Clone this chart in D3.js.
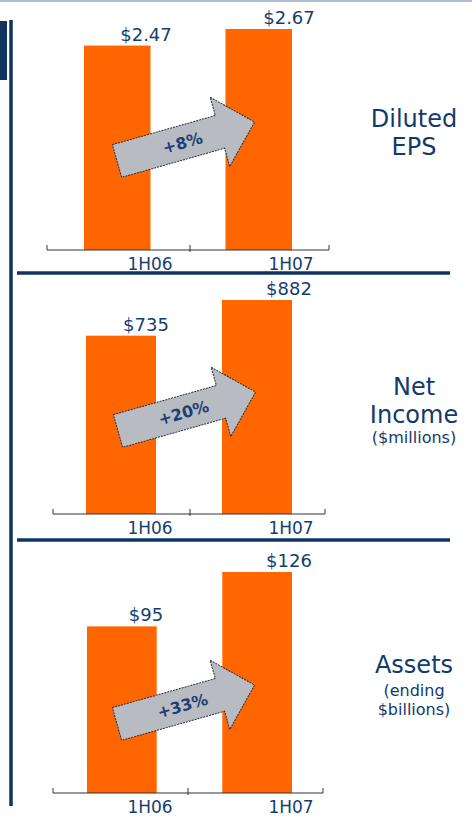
<!DOCTYPE html>
<meta charset="utf-8">
<style>
body { margin: 0; background: #fff; }
svg { display: block; font-family: Verdana, "DejaVu Sans", sans-serif; }
.bar { fill: #ff6600; }
.axis line { stroke: #333; stroke-width: 1px; fill: none; }
.val { fill: #153e6f; font-size: 18px; text-anchor: middle; }
.cat { fill: #153e6f; font-size: 17px; text-anchor: middle; }
.title { fill: #123a6b; font-size: 24px; text-anchor: middle; }
.note { fill: #123a6b; font-size: 16px; text-anchor: middle; }
.arrow { fill: #b8bbc2; stroke: #2a2f3a; stroke-width: 1px; stroke-dasharray: 2,1; }
.growth { fill: #1d3f72; font-size: 16px; font-weight: bold; text-anchor: middle; }
.rule { stroke: #0f3461; }
</style>
<body>
<script src="https://d3js.org/d3.v7.min.js"></script>
<script>

var width = 472,
    height = 817;

// data
var periods = ["1H06", "1H07"];
var epsValues = [2.47, 2.67];
var incomeValues = [735, 882];
var assetValues = [95, 126];
var growthLabels = ["+8%", "+20%", "+33%"];
var titleLines = [["Diluted", "EPS"], ["Net", "Income"], ["Assets"]];
var noteLines = [[], ["($millions)"], ["(ending", "$billions)"]];

var formats = [d3.format("$.2f"), d3.format("$d"), d3.format("$d")];
var series = [epsValues, incomeValues, assetValues];

// layout of the three panels
var panels = [
  {base: 250, top: 29, x0: 47, x1: 329, mid: 190, bars: [84, 292], pad: 0.53, arrow: [117, 161], titleY: 127, noteY: 0},
  {base: 514, top: 300, x0: 53, x1: 325, mid: 190, bars: [86, 292], pad: 0.485, arrow: [118, 431], titleY: 395, noteY: 443},
  {base: 793, top: 572, x0: 53, x1: 323, mid: 188, bars: [87, 292], pad: 0.485, arrow: [117, 724], titleY: 673, noteY: 696}
];

var labelX = d3.scalePoint().domain(periods).range([150, 291]);
var valueX = d3.scalePoint().domain(periods).range([146, 289]);

var svg = d3.select("body").append("svg")
    .attr("width", width)
    .attr("height", height);

// frame decorations
svg.append("line").attr("x1", 0).attr("x2", width).attr("y1", 1).attr("y2", 1)
    .style("stroke", "#a9bdd8").style("stroke-width", 2);
svg.append("rect").attr("x", 0).attr("y", 21).attr("width", 7).attr("height", 59)
    .style("fill", "#0f3461");
svg.append("line").attr("class", "rule")
    .attr("x1", 11).attr("x2", 11).attr("y1", 20).attr("y2", 806)
    .style("stroke-width", 3.5);
[273, 540].forEach(function(y) {
  svg.append("line").attr("class", "rule")
      .attr("x1", 17).attr("x2", 450).attr("y1", y).attr("y2", y)
      .style("stroke-width", 3.5);
});

var arrowShape = "M0,-17L107,-17L107,-36L143,0L107,36L107,17L0,17Z";

panels.forEach(function(p, i) {
  var values = series[i];
  var g = svg.append("g");

  var x = d3.scaleBand()
      .domain(periods)
      .range(p.bars)
      .paddingInner(p.pad)
      .paddingOuter(0);

  var y = d3.scaleLinear()
      .domain([0, d3.max(values)])
      .range([p.base, p.top]);

  g.selectAll(".bar")
      .data(values)
    .enter().append("rect")
      .attr("class", "bar")
      .attr("x", function(d, j) { return x(periods[j]); })
      .attr("width", x.bandwidth())
      .attr("y", function(d) { return y(d); })
      .attr("height", function(d) { return y(0) - y(d); });

  // axis line with ticks on the period boundaries
  var ax = g.append("g").attr("class", "axis");
  ax.append("line").attr("x1", p.x0).attr("x2", p.x1).attr("y1", p.base).attr("y2", p.base);
  ax.selectAll(".tk").data([p.x0, p.mid, p.x1]).enter().append("line")
      .attr("x1", function(d) { return d; })
      .attr("x2", function(d) { return d; })
      .attr("y1", p.base - 5)
      .attr("y2", function(d, j) { return j == 1 ? p.base + 2 : p.base; });

  g.selectAll(".cat")
      .data(periods)
    .enter().append("text")
      .attr("class", "cat")
      .attr("x", function(d) { return labelX(d); })
      .attr("y", p.base + 20)
      .text(function(d) { return d; });

  g.selectAll(".val")
      .data(values)
    .enter().append("text")
      .attr("class", "val")
      .attr("x", function(d, j) { return valueX(periods[j]); })
      .attr("y", function(d) { return y(d) - 5; })
      .text(function(d) { return formats[i](d); });

  var arrow = g.append("g")
      .attr("transform", "translate(" + p.arrow[0] + "," + p.arrow[1] + ") rotate(-15.8)");
  arrow.append("path").attr("class", "arrow").attr("d", arrowShape);
  arrow.append("text").attr("class", "growth")
      .attr("x", 68).attr("y", 6)
      .text(growthLabels[i]);

  g.selectAll(".title")
      .data(titleLines[i])
    .enter().append("text")
      .attr("class", "title")
      .attr("x", 414)
      .attr("y", function(d, j) { return p.titleY + j * 28; })
      .text(function(d) { return d; });

  g.selectAll(".note")
      .data(noteLines[i])
    .enter().append("text")
      .attr("class", "note")
      .attr("x", 414)
      .attr("y", function(d, j) { return p.noteY + j * 19; })
      .text(function(d) { return d; });
});

</script>
